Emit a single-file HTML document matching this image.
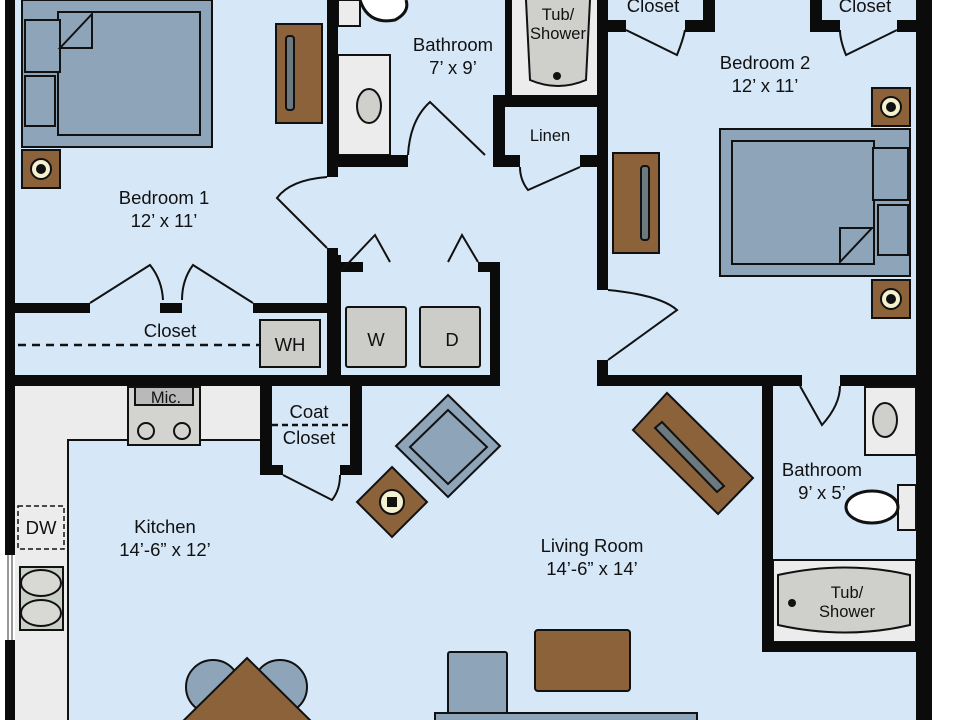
<!DOCTYPE html>
<html><head><meta charset="utf-8"><style>
html,body{margin:0;padding:0;background:#fff;}
svg{display:block;}
text{font-family:"Liberation Sans",sans-serif;fill:#111;text-anchor:middle;}
</style></head><body>
<svg width="960" height="720" viewBox="0 0 960 720" xmlns="http://www.w3.org/2000/svg">
<rect x="0" y="0" width="960" height="720" fill="#fff"/>
<rect x="5" y="0" width="927" height="720" fill="#d6e7f8"/>

<rect x="15" y="385" width="53" height="335" fill="#ececec"/>
<rect x="15" y="385" width="245" height="55" fill="#ececec"/>
<path d="M68 720 V440 H130 M198 440 H260" stroke="#111" stroke-width="2" fill="none"/>
<rect x="773" y="560" width="143" height="82" fill="#ececec" stroke="#111" stroke-width="2"/>
<rect x="512" y="0" width="86" height="97" fill="#ececec"/>
<rect x="338" y="55" width="52" height="100" fill="#ececec" stroke="#111" stroke-width="2"/>
<rect x="865" y="387" width="51" height="68" fill="#ececec" stroke="#111" stroke-width="2"/>
<rect x="338" y="0" width="22" height="26" fill="#ececec" stroke="#111" stroke-width="2"/>

<g fill="#0b0b0b">
<rect x="5" y="0" width="10" height="555"/>
<rect x="5" y="640" width="10" height="80"/>
<rect x="916" y="0" width="16" height="720"/>
<rect x="327" y="0" width="11" height="177"/>
<rect x="327" y="248" width="11" height="137"/>
<rect x="15" y="303" width="75" height="10"/>
<rect x="160" y="303" width="22" height="10"/>
<rect x="253" y="303" width="80" height="10"/>
<rect x="5" y="375" width="495" height="11"/>
<rect x="333" y="255" width="8" height="130"/>
<rect x="333" y="262" width="30" height="10"/>
<rect x="478" y="262" width="22" height="10"/>
<rect x="490" y="262" width="10" height="123"/>
<rect x="338" y="155" width="70" height="12"/>
<rect x="493" y="95" width="12" height="72"/>
<rect x="493" y="95" width="107" height="12"/>
<rect x="493" y="155" width="27" height="12"/>
<rect x="580" y="155" width="20" height="12"/>
<rect x="505" y="0" width="7" height="97"/>
<rect x="597" y="0" width="11" height="290"/>
<rect x="597" y="360" width="11" height="25"/>
<rect x="597" y="375" width="205" height="11"/>
<rect x="840" y="375" width="92" height="11"/>
<rect x="608" y="20" width="18" height="12"/>
<rect x="685" y="20" width="30" height="12"/>
<rect x="703" y="0" width="12" height="32"/>
<rect x="810" y="0" width="12" height="32"/>
<rect x="810" y="20" width="30" height="12"/>
<rect x="897" y="20" width="20" height="12"/>
<rect x="762" y="377" width="11" height="275"/>
<rect x="762" y="642" width="170" height="10"/>
<rect x="260" y="385" width="12" height="90"/>
<rect x="350" y="385" width="12" height="90"/>
<rect x="260" y="465" width="23" height="10"/>
<rect x="340" y="465" width="22" height="10"/>
</g>
<rect x="5" y="555" width="10" height="85" fill="#fff"/>
<path d="M8 555 V640 M12 555 V640" stroke="#333" stroke-width="1"/>

<g stroke="#111" stroke-width="2" fill="none">
<path d="M90 303 L150 265 Q162 280 163 300"/>
<path d="M253 303 L193 265 Q182 280 182 300"/>
<path d="M327 248 L277 198 Q290 180 327 177"/>
<path d="M408 155 Q410 120 430 102 L485 155"/>
<path d="M340 272 L375 235 L390 262"/>
<path d="M448 262 L462 235 L478 262"/>
<path d="M520 167 Q520 180 528 190 L580 167"/>
<path d="M608 360 L677 310 Q660 295 608 290"/>
<path d="M626 30 L677 55 Q683 40 685 30"/>
<path d="M897 30 L846 55 Q840 40 840 30"/>
<path d="M800 386 L822 425 Q840 405 840 386"/>
<path d="M283 475 L332 500 Q340 490 340 475"/>
</g>
<path d="M18 345 H260" stroke="#111" stroke-width="2.5" stroke-dasharray="8 6"/>
<path d="M272 425 H350" stroke="#111" stroke-width="2.5" stroke-dasharray="6 4"/>
<rect x="18" y="506" width="46" height="43" fill="none" stroke="#111" stroke-width="1.5" stroke-dasharray="5 3"/>

<g stroke="#111" stroke-width="2">
<rect x="260" y="320" width="60" height="47" fill="#ccccc9"/>
<rect x="346" y="307" width="60" height="60" rx="2" fill="#ccccc9"/>
<rect x="420" y="307" width="60" height="60" rx="2" fill="#ccccc9"/>
<rect x="128" y="387" width="72" height="58" fill="#d3d3cf"/>
<rect x="135" y="387" width="58" height="18" fill="#b9b9b9"/>
<circle cx="146" cy="431" r="8" fill="none"/>
<circle cx="182" cy="431" r="8" fill="none"/>
<rect x="20" y="567" width="43" height="63" fill="#c8d0c8"/>
<ellipse cx="41" cy="583" rx="20" ry="13" fill="#d8d8d4"/>
<ellipse cx="41" cy="613" rx="20" ry="13" fill="#d8d8d4"/>
<ellipse cx="369" cy="106" rx="12" ry="17" fill="#cfcfcb"/>
<ellipse cx="885" cy="420" rx="12" ry="17" fill="#cfcfcb"/>
<path d="M526 0 L530 80 Q558 92 586 80 L590 0" fill="#cfcfcb"/>
<path d="M778 575 Q846 560 910 575 L910 625 Q846 640 778 625 Z" fill="#cfcfcb"/>
<rect x="898" y="485" width="18" height="45" fill="#ececec"/>
<ellipse cx="872" cy="507" rx="26" ry="16" fill="#fff" stroke-width="3"/>
<path d="M360 0 Q368 25 395 20 Q410 12 406 0" fill="#fff" stroke-width="3"/>
</g>
<circle cx="557" cy="76" r="4" fill="#111"/>
<circle cx="792" cy="603" r="4" fill="#111"/>

<g stroke="#111" stroke-width="2">
<rect x="22" y="0" width="190" height="147" fill="#8ea4b8"/>
<rect x="58" y="12" width="142" height="123" fill="#8ea4b8"/>
<rect x="25" y="20" width="35" height="52" fill="#8ea4b8"/>
<rect x="25" y="76" width="30" height="50" fill="#8ea4b8"/>
<path d="M60 48 L92 14 V48 Z" fill="#8ea4b8"/>
<rect x="22" y="150" width="38" height="38" fill="#8b6239"/>
<circle cx="41" cy="169" r="10" fill="#f5f0d0"/>
<circle cx="41" cy="169" r="4" fill="#111"/>
<rect x="276" y="24" width="46" height="99" fill="#8b6239"/>
<rect x="286" y="36" width="8" height="74" rx="3" fill="#6c7a80"/>
<rect x="720" y="129" width="190" height="147" fill="#8ea4b8"/>
<rect x="732" y="141" width="142" height="123" fill="#8ea4b8"/>
<rect x="873" y="148" width="35" height="52" fill="#8ea4b8"/>
<rect x="878" y="205" width="30" height="50" fill="#8ea4b8"/>
<path d="M840 262 L872 228 H840 Z" fill="#8ea4b8"/>
<rect x="872" y="88" width="38" height="38" fill="#8b6239"/>
<circle cx="891" cy="107" r="10" fill="#f5f0d0"/><circle cx="891" cy="107" r="4" fill="#111"/>
<rect x="872" y="280" width="38" height="38" fill="#8b6239"/>
<circle cx="891" cy="299" r="10" fill="#f5f0d0"/><circle cx="891" cy="299" r="4" fill="#111"/>
<rect x="613" y="153" width="46" height="100" fill="#8b6239"/>
<rect x="641" y="166" width="8" height="74" rx="3" fill="#6c7a80"/>
<polygon points="667,393 753,478 718,514 633,430" fill="#8b6239"/>
<polygon points="655,428 662,422 724,486 717,492" fill="#6c7a80"/>
<polygon points="448,395 500,446 448,497 396,446" fill="#8ea4b8"/>
<polygon points="448,410 487,447 448,484 410,447" fill="#8ea4b8"/>
<polygon points="392,467 427,502 392,537 357,502" fill="#8b6239"/>
<circle cx="392" cy="502" r="12" fill="#f5f0d0"/>
<rect x="388" y="498" width="8" height="8" fill="#111"/>
<rect x="535" y="630" width="95" height="61" rx="3" fill="#8b6239"/>
<rect x="448" y="652" width="59" height="68" rx="2" fill="#8ea4b8"/>
<rect x="435" y="713" width="262" height="12" fill="#8ea4b8"/>
<circle cx="213" cy="687" r="27" fill="#8ea4b8"/>
<circle cx="280" cy="687" r="27" fill="#8ea4b8"/>
<polygon points="247,658 320,730 174,730" fill="#8b6239"/>
</g>

<g font-size="18.5">
<text x="164" y="204">Bedroom 1</text><text x="164" y="227">12’ x 11’</text>
<text x="453" y="51">Bathroom</text><text x="453" y="74">7’ x 9’</text>
<text x="765" y="69">Bedroom 2</text><text x="765" y="92">12’ x 11’</text>
<text x="170" y="337">Closet</text>
<text x="290" y="351">WH</text>
<text x="376" y="346">W</text><text x="452" y="346">D</text>
<text x="309" y="418">Coat</text><text x="309" y="444">Closet</text>
<text x="41" y="534">DW</text>
<text x="165" y="533">Kitchen</text><text x="165" y="556">14’-6” x 12’</text>
<text x="592" y="552">Living Room</text><text x="592" y="575">14’-6” x 14’</text>
<text x="822" y="476">Bathroom</text><text x="822" y="499">9’ x 5’</text>
<text x="653" y="12">Closet</text><text x="865" y="12">Closet</text>
</g>
<g font-size="16.5">
<text x="166" y="403">Mic.</text>
<text x="550" y="141">Linen</text>
<text x="558" y="20">Tub/</text><text x="558" y="39">Shower</text>
<text x="847" y="598">Tub/</text><text x="847" y="617">Shower</text>
</g>
</svg>
</body></html>
